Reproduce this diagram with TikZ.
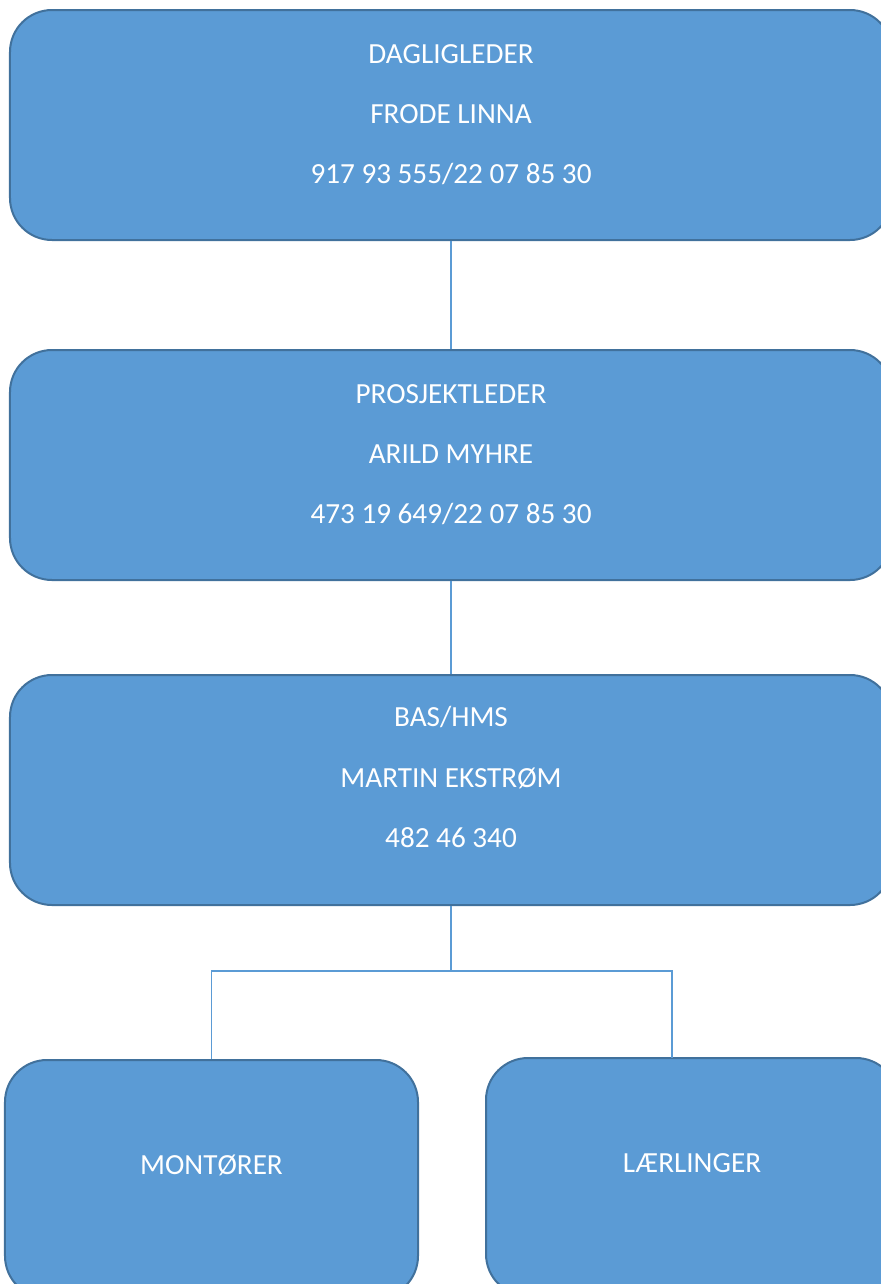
\documentclass[tikz,border=0pt]{standalone}
\usepackage{fontspec}
\setmainfont{Carlito}
\definecolor{boxfill}{HTML}{5B9BD5}
\definecolor{boxline}{HTML}{41719C}
\definecolor{conn}{HTML}{5B9BD5}
\begin{document}
\begin{tikzpicture}[x=1bp,y=-1bp,
  orgbox/.style={draw=boxline,fill=boxfill,line width=2bp,rounded corners=42bp,
    minimum width=#1,minimum height=230bp,inner sep=0pt},
  orgtext/.style={anchor=base,text=white,inner sep=0pt,font=\fontsize{29.3}{35}\selectfont},
  connline/.style={draw=conn,line width=1.2bp}]
\useasboundingbox (0,0) rectangle (881,1284);
\clip (0,0) rectangle (881,1284);
% boxes
\node[orgbox=882bp] (b1) at (451,125) {};
\node[orgbox=882bp] (b2) at (451,465) {};
\node[orgbox=882bp] (b3) at (451,790) {};
\node[orgbox=413bp,minimum height=238bp] (b4) at (211.5,1179) {};
\node[orgbox=412bp,minimum height=238bp] (b5) at (692,1177) {};
% texts
\node[orgtext] (t11) at (451,63) {DAGLIGLEDER};
\node[orgtext] (t12) at (451,123) {FRODE LINNA};
\node[orgtext] (t13) at (451,183) {917 93 555/22 07 85 30};
\node[orgtext] (t21) at (451,403) {PROSJEKTLEDER};
\node[orgtext] (t22) at (451,463) {ARILD MYHRE};
\node[orgtext] (t23) at (451,523) {473 19 649/22 07 85 30};
\node[orgtext] (t31) at (451,726) {BAS/HMS};
\node[orgtext] (t32) at (451,787) {MARTIN EKSTRØM};
\node[orgtext] (t33) at (451,847) {482 46 340};
\node[orgtext] (t4) at (211.5,1174) {MONTØRER};
\node[orgtext] (t5) at (692,1172) {LÆRLINGER};
% connectors
\coordinate (j) at (451,971);
\coordinate (b5top) at (672,1058);
\draw[connline] (b1.south) -- (b2.north);
\draw[connline] (b2.south) -- (b3.north);
\draw[connline] (b3.south) -- (j);
\draw[connline] (j) -| (b4.north);
\draw[connline] (j) -| (b5top);
\end{tikzpicture}
\end{document}
